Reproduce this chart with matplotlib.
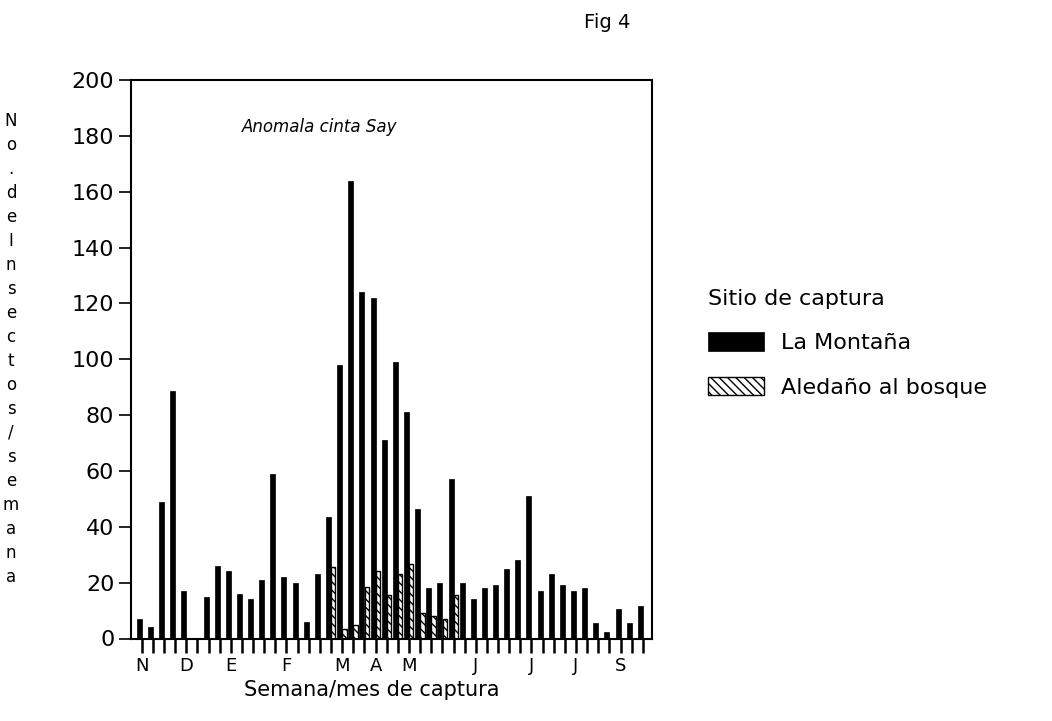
import matplotlib
matplotlib.use("Agg")
import matplotlib.pyplot as plt
import numpy as np

# ---- data ----
weeks = list(range(1, 47))
montana = [7, 4, 49, 88.5, 17, 0, 15, 26, 24, 16, 14, 21, 59, 22, 20, 6, 23,
           43.5, 98, 164, 124, 122, 71, 99, 81, 46.5, 18, 20, 57, 20,
           14, 18, 19, 25, 28, 51, 17, 23, 19, 17, 18, 5.5, 2.5, 10.5, 5.5, 11.5]
aledano = [0] * 17 + [25.5, 3.5, 5, 18.5, 24, 15.5, 23, 26.5, 9, 8, 7, 15.5] + [0] * 17
month_labels = ["N", "D", "E", "F", "M", "A", "M", "J", "J", "J", "S"]
month_weeks = [1, 5, 9, 14, 19, 22, 25, 31, 36, 40, 44]
yticks = [0, 20, 40, 60, 80, 100, 120, 140, 160, 180, 200]
ylabel_text = "No.deInsectos/semana"

plt.rcParams['font.family'] = ['DejaVu Sans']
plt.rcParams['hatch.linewidth'] = 1.0

W, H = 1052, 721
fig = plt.figure(figsize=(W / 100, H / 100), dpi=100)
left, right, top, bottom = 131, 652, 80, 638.5
ax = fig.add_axes([left / W, 1 - bottom / H, (right - left) / W, (bottom - top) / H])

x = np.arange(len(weeks))
bw = 0.45
b1 = ax.bar(x - bw / 2, montana, width=bw, color='black', edgecolor='black',
            linewidth=0.5, label='La Montaña')
b2 = ax.bar(x + bw / 2 - 0.02, aledano, width=bw - 0.06, color='white', edgecolor='black',
            hatch='\\\\\\\\', linewidth=1.0, label='Aledaño al bosque')

ax.set_xlim(-0.96, 45.82)
ax.set_ylim(0, 200)
ax.set_yticks(yticks)
ax.set_yticklabels([str(v) for v in yticks], fontsize=16)
ax.set_xticks(x)
lbls = [''] * len(weeks)
for m, wk in zip(month_labels, month_weeks):
    lbls[wk - 1] = m
ax.set_xticklabels(lbls, fontsize=13)
ax.tick_params(axis='x', direction='out', length=10, width=1.8, pad=3)
ax.tick_params(axis='y', direction='out', length=9, width=1.2, pad=3)
for s in ax.spines.values():
    s.set_linewidth(1.5)

ax.set_xlabel("Semana/mes de captura", fontsize=15)
ax.xaxis.set_label_coords((372 - left) / (right - left), -(690 - bottom) / (bottom - top))
ax.xaxis.label.set_va('center')

# vertical stacked y label
ys = np.linspace(121, 577, len(ylabel_text))
for ch, yy in zip(ylabel_text, ys):
    fig.text(11 / W, 1 - yy / H, ch, fontsize=12, ha='center', va='center')

ax.text((320 - left) / (right - left), (bottom - 127) / (bottom - top), "Anomala cinta Say",
        transform=ax.transAxes, fontsize=12, style='italic', ha='center', va='center')
fig.text(607 / W, 1 - 22 / H, "Fig 4", fontsize=14, ha='center', va='center')

leg = ax.legend(handles=[b1, b2], labels=['La Montaña', 'Aledaño al bosque'],
                title='Sitio de captura', loc='upper left',
                bbox_to_anchor=(697 / W, 1 - 278 / H), bbox_transform=fig.transFigure,
                frameon=False, fontsize=16, title_fontsize=16, handlelength=2.5,
                handleheight=0.9, handletextpad=0.8, labelspacing=1.05,
                borderpad=0, alignment='left')

fig.savefig("out.png", dpi=100)
